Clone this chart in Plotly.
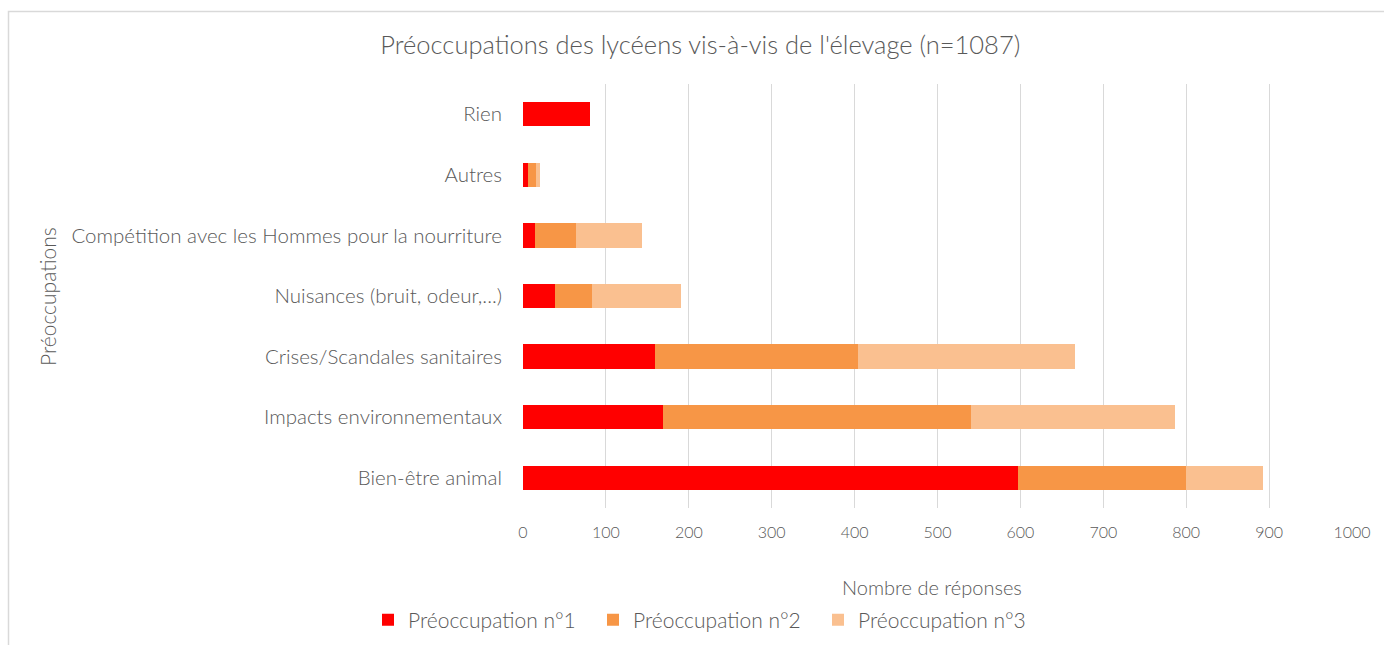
import plotly.graph_objects as go

categories = ["Bien-être animal", "Impacts environnementaux", "Crises/Scandales sanitaires",
              "Nuisances (bruit, odeur,...)", "Compétition avec les Hommes pour la nourriture",
              "Autres", "Rien"]
preoc1 = [597, 169, 159, 38, 15, 6, 81]
preoc2 = [203, 371, 245, 45, 49, 10, 0]
preoc3 = [93, 246, 262, 107, 80, 5, 0]
series_names = ["Préoccupation n°1", "Préoccupation n°2", "Préoccupation n°3"]
colors = ["#FF0000", "#F79646", "#FAC090"]
x_ticks = [0, 100, 200, 300, 400, 500, 600, 700, 800, 900, 1000]

FONT = "Lato"
GREY = "#595959"
WT = 300

fig = go.Figure()
for name, vals, col in zip(series_names, [preoc1, preoc2, preoc3], colors):
    fig.add_trace(go.Bar(y=categories, x=vals, name=name, orientation="h",
                         marker=dict(color=col, line=dict(width=0))))

W, H = 1384, 645
L, R, T, B = 523, 32, 84, 137
pw, ph = W - L - R, H - T - B

def px(x):
    return (x - L) / pw

def py(y):
    return (H - B - y) / ph

fig.update_layout(
    width=W, height=H, barmode="stack", bargap=0.6,
    margin=dict(l=L, r=R, t=T, b=B, autoexpand=False),
    paper_bgcolor="white", plot_bgcolor="white",
    font=dict(family=FONT, color=GREY, size=16, weight=WT),
    title=dict(text="Préoccupations des lycéens vis-à-vis de l'élevage (n=1087)",
               x=0.506, xref="container", xanchor="center",
               y=1 - 45 / H, yref="container", yanchor="middle",
               font=dict(size=25.5, color=GREY, family=FONT, weight=WT)),
    xaxis=dict(range=[0, 1000], tickvals=x_ticks, showgrid=True, gridcolor="#D9D9D9",
               gridwidth=1, zeroline=False, showline=False, ticks="",
               tickfont=dict(size=16, color=GREY, weight=WT), ticklabelstandoff=13),
    yaxis=dict(categoryorder="array", categoryarray=categories, showgrid=False,
               zeroline=False, showline=False, ticks="",
               tickfont=dict(size=20.5, color=GREY, weight=WT), ticklabelstandoff=20),
    legend=dict(orientation="h", x=px(368), xanchor="left", y=py(620), yanchor="middle",
                font=dict(size=21, color=GREY, weight=WT), entrywidth=180, entrywidthmode="pixels",
                itemwidth=30, traceorder="normal"),
    showlegend=True,
)

fig.add_annotation(text="Nombre de réponses", xref="paper", yref="paper",
                   x=px(932), y=py(587), showarrow=False, xanchor="center", yanchor="middle",
                   font=dict(size=20, color=GREY, weight=WT))
fig.add_annotation(text="Préoccupations", xref="paper", yref="paper",
                   x=px(47), y=py(297), showarrow=False, xanchor="center", yanchor="middle",
                   textangle=-90, font=dict(size=21, color=GREY, weight=WT))

fig.add_shape(type="rect", xref="paper", yref="paper",
              x0=px(8.5), x1=px(1500), y0=py(700), y1=py(11.5),
              line=dict(color="#D9D9D9", width=1.5), fillcolor="rgba(0,0,0,0)", layer="below")

fig.write_html("out.html", config={"displayModeBar": False},
               post_script="document.body.style.margin='0px';")
